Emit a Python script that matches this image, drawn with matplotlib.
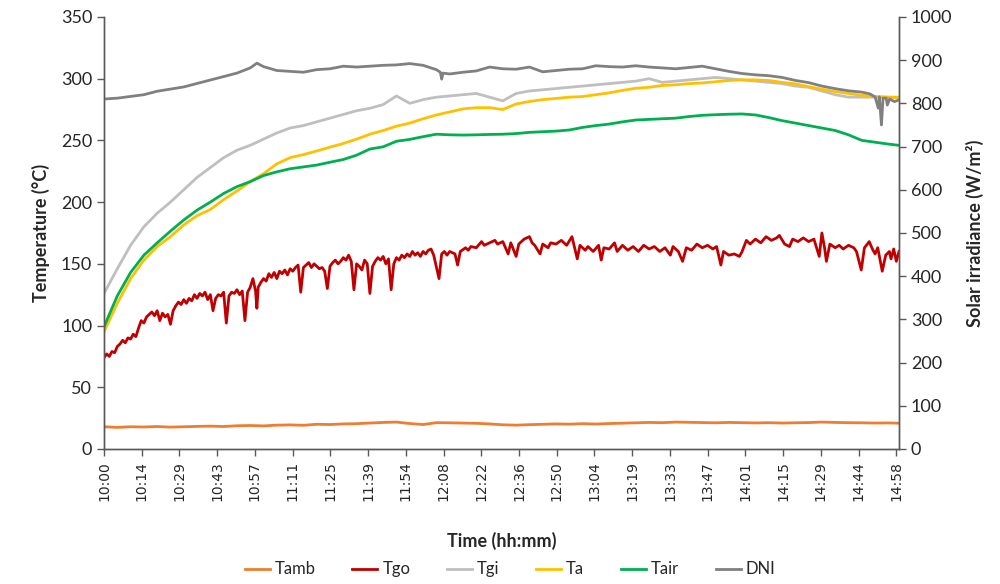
import matplotlib
matplotlib.use("Agg")
import matplotlib.pyplot as plt

# minutes after 10:00, 5-minute readings for the smooth series
minutes = [0, 5, 10, 15, 20, 25, 30, 35, 40, 45, 50, 55, 60, 65, 70, 75, 80, 85, 90, 95,
           100, 105, 110, 115, 120, 125, 130, 135, 140, 145, 150, 155, 160, 165, 170, 175,
           180, 185, 190, 195, 200, 205, 210, 215, 220, 225, 230, 235, 240, 245, 250, 255,
           260, 265, 270, 275, 280, 285, 290, 295, 299]

tamb = [18, 17.5, 18, 17.8, 18.2, 17.7, 18, 18.3, 18.5, 18.2, 18.8, 19, 18.7, 19.3, 19.5,
        19.2, 20, 19.8, 20.3, 20.5, 21, 21.5, 21.8, 20.6, 19.8, 21.3, 21.2, 21, 20.8, 20.3,
        19.6, 19.3, 19.7, 20, 20.3, 20.1, 20.5, 20.2, 20.6, 20.9, 21.2, 21.5, 21.3, 21.8,
        21.6, 21.4, 21.2, 21.5, 21.3, 21.1, 21.3, 21, 21.2, 21.4, 21.8, 21.5, 21.3, 21.2,
        21.0, 21.1, 20.9]

tgi = [126, 146, 165, 180, 191, 200, 210, 220, 228, 236, 242, 246, 251, 256, 260, 262, 265,
       268, 271, 274, 276, 279, 286, 280, 283, 285, 286, 287, 288, 285, 282, 288, 290, 291,
       292, 293, 294, 295, 296, 297, 298, 300, 297, 298, 299, 300, 301, 300, 299, 298, 297,
       296, 294, 293, 290, 287, 285, 285, 285, 285, 285]

ta = [95, 118, 138, 153, 164, 172, 181.5, 189, 194, 202, 209, 216.6, 223, 231, 236, 238.5,
      241.4, 244.5, 247.5, 251, 255, 258, 261.5, 264, 267.5, 270.6, 273, 275.5, 276.5, 276.5,
      275, 279.5, 281.5, 283, 284, 285, 285.5, 287, 288.5, 290.5, 292.2, 293, 294.5, 295,
      296, 296.5, 297.5, 298.5, 299, 299, 298.5, 297, 295.8, 293.5, 291.4, 289.5, 288,
      286.5, 285.5, 285, 284.5]

tair = [99, 124, 143, 157, 167, 176.5, 185.5, 193.5, 200, 207, 212.5, 216.6, 221.5, 224.5,
        227, 228.5, 230, 232.3, 234.5, 238, 243, 244.8, 249.3, 250.8, 253, 255, 254.5, 254.3,
        254.5, 254.8, 255, 255.5, 256.5, 257, 257.5, 258.4, 260.5, 262, 263.2, 265, 266.5,
        267, 267.5, 268, 269.3, 270.3, 270.8, 271.2, 271.4, 270.6, 268.5, 266, 264, 262, 260,
        258, 254.5, 250, 248.5, 247, 246]

# Tgo is very noisy: denser readings incl. the short dips
tgo_min = [0, 1, 2, 3, 4, 5, 6, 7, 8, 9, 10, 11, 12, 13, 14, 15, 16, 17, 18, 19, 20, 21, 22,
           23, 24, 25, 26, 27, 28, 29, 30, 31, 32, 33, 34, 35, 36, 37, 38, 39, 40, 41, 42, 43,
           44, 45, 46, 47, 48, 49, 50, 51, 52, 53, 54, 55, 56, 57, 57.5, 58, 59, 60, 61, 62,
           63, 64, 65, 66, 67, 68, 69, 70, 71, 72, 73, 74, 75, 76, 77, 78, 79, 80, 81, 82, 83,
           84, 85, 86, 87, 88, 89, 90, 91, 92, 93, 94, 95, 96, 97, 98, 99, 100, 101, 102, 103,
           104, 105, 106, 107, 108, 109, 110, 111, 112, 113, 114, 115, 116, 117, 118, 119,
           120, 121, 122, 123, 124, 126, 127, 128, 129, 130, 132, 133, 134, 136, 137, 138,
           140, 142, 143, 145, 147, 148, 150, 152, 153, 155, 156, 158, 160, 161, 162, 164,
           165, 167, 168, 170, 172, 174, 176, 178, 179, 181, 182, 184, 186, 187, 188, 190,
           192, 193, 195, 197, 199, 201, 203, 205, 207, 209, 211, 213, 214, 216, 217.6, 219,
           221, 223, 225, 227, 229, 230.4, 232, 233, 235, 237, 239, 240, 241.6, 243, 245, 247,
           249, 251, 253, 254, 256, 257.8, 259, 261, 263, 265, 267, 269, 270, 271, 271.7, 273,
           275, 276.5, 278, 280, 282, 283, 284.8, 286, 287.8, 289, 290, 291, 292.7, 294,
           295.4, 296, 297, 298, 299]
tgo = [74, 77, 75, 79, 78, 83, 85, 88, 86, 90, 89, 93, 91, 98, 104, 102, 107, 109, 111, 108,
       112, 104, 110, 107, 109, 101, 112, 116, 119, 117, 121, 118, 122, 120, 125, 122, 126,
       124, 127, 121, 125, 112, 122, 125, 124, 127, 102, 124, 127, 126, 129, 125, 128, 104,
       127, 131, 138, 128, 114, 131, 135, 138, 136, 142, 139, 143, 138, 144, 142, 145, 141,
       146, 144, 147, 149, 127, 147, 149, 151, 147, 150, 148, 146, 147, 144, 130, 148, 151,
       153, 150, 152, 155, 153, 157, 152, 129, 150, 148, 145, 153, 150, 126, 148, 152, 155,
       153, 156, 150, 154, 129, 150, 155, 153, 157, 155, 158, 156, 160, 157, 159, 156, 160,
       158, 161, 162, 157, 138, 158, 160, 157, 160, 158, 149, 160, 163, 161, 164, 163, 168,
       165, 167, 169, 166, 168, 158, 167, 156, 166, 170, 172, 167, 165, 158, 166, 163, 167,
       166, 169, 165, 172, 154, 165, 161, 164, 160, 165, 153, 163, 162, 167, 160, 165, 161,
       164, 160, 165, 162, 164, 160, 163, 157, 164, 160, 152, 163, 161, 166, 163, 165, 162,
       164, 149, 160, 157, 158, 156, 160, 169, 166, 170, 167, 172, 169, 171, 173, 166, 164,
       170, 168, 171, 168, 170, 156, 175, 163, 152, 166, 163, 165, 162, 165, 163, 160, 145,
       163, 168, 162, 158, 163, 144, 157, 160, 154, 162, 152, 160]

dni_min = [0, 5, 10, 15, 20, 25, 30, 35, 40, 45, 50, 55, 57.5, 60, 65, 70, 75, 80, 85, 90, 95,
           100, 105, 110, 115, 120, 125, 126.5, 127, 127.5, 130, 135, 140, 145, 150, 155, 160,
           165, 170, 175, 180, 185, 190, 195, 200, 205, 210, 215, 220, 225, 230, 235, 240,
           245, 250, 255, 260, 265, 270, 275, 280, 285, 288, 290, 291.2, 291.6, 292.4, 293,
           294.2, 294.6, 295.5, 297.3, 299]
dni = [810, 812, 816, 820, 828, 833, 838, 846, 854, 862, 870, 882, 893, 885, 876, 874, 872,
       878, 880, 886, 884, 886, 888, 889, 892, 888, 878, 872, 856, 870, 868, 872, 875, 884,
       880, 879, 884, 873, 876, 879, 880, 887, 885, 884, 887, 884, 882, 880, 883, 886, 880,
       874, 869, 866, 864, 860, 853, 848, 840, 834, 829, 826, 822, 815, 789, 815, 750, 812,
       812, 796, 810, 804, 808]

tick_labels = ["10:00", "10:14", "10:29", "10:43", "10:57", "11:11", "11:25", "11:39",
               "11:54", "12:08", "12:22", "12:36", "12:50", "13:04", "13:19", "13:33",
               "13:47", "14:01", "14:15", "14:29", "14:44", "14:58"]

plt.rcParams['font.family'] = ['Lato', 'DejaVu Sans']
AX_COLOR = "#595959"
TXT = "#262626"

fig = plt.figure(figsize=(10, 5.84), dpi=100)
ax = fig.add_axes([0.104, 0.2312, 0.795, 0.7398])
ax2 = ax.twinx()

lw = 2.0
h1, = ax.plot(minutes, tamb, color="#ED7D31", lw=lw, label="Tamb")
h2, = ax.plot(tgo_min, tgo, color="#C00000", lw=lw, label="Tgo")
h3, = ax.plot(minutes, tgi, color="#BFBFBF", lw=lw, label="Tgi")
h4, = ax.plot(minutes, ta, color="#FFC000", lw=lw, label="Ta")
h5, = ax.plot(minutes, tair, color="#00B050", lw=lw, label="Tair")
h6, = ax2.plot(dni_min, dni, color="#808080", lw=lw, label="DNI")

ax.set_xlim(0, 299)
ax.set_ylim(0, 350)
ax2.set_ylim(0, 1000)
ax.set_yticks(range(0, 351, 50))
ax2.set_yticks(range(0, 1001, 100))
ax.set_xticks([k * 298 / 21 for k in range(22)])
ax.set_xticklabels(tick_labels, rotation=90, family="DejaVu Sans", fontsize=10, color=TXT)

for a in (ax, ax2):
    a.spines["top"].set_visible(False)
    for s in ("left", "right", "bottom"):
        a.spines[s].set_color(AX_COLOR)
        a.spines[s].set_linewidth(1.0)
    a.tick_params(colors=AX_COLOR, labelcolor=TXT, length=5, width=1.0, labelsize=13)
ax.tick_params(axis="x", labelsize=10)

ax.set_ylabel("Temperature (°C)", fontsize=13, fontweight="bold", color=TXT, labelpad=8)
ax2.set_ylabel("Solar irradiance (W/m²)", fontsize=13, fontweight="bold", color=TXT,
               labelpad=10)
ax.set_xlabel("Time (hh:mm)", fontsize=13, fontweight="bold", color=TXT, labelpad=22)

fig.legend(handles=[h1, h2, h3, h4, h5, h6], loc="center", bbox_to_anchor=(0.51, 0.025),
           ncol=6, frameon=False, fontsize=12, handlelength=1.5, handletextpad=0.3,
           columnspacing=2.2, labelcolor=TXT)

fig.savefig("out.png", dpi=100)
